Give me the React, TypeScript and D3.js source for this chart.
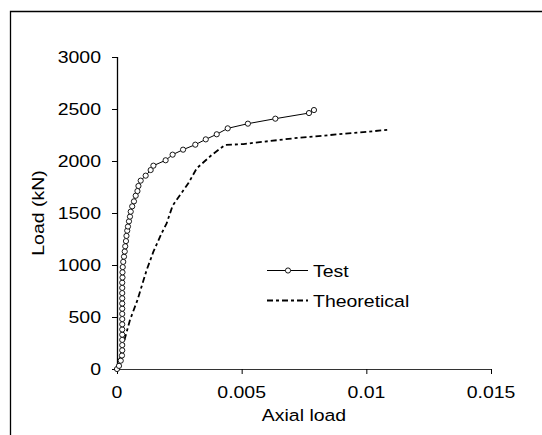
import React from "react";
import * as d3 from "d3";

const testStrain = [0, 0.00008, 0.00015, 0.0002, 0.00021, 0.00021, 0.00021, 0.00021, 0.00021, 0.00021, 0.00021, 0.00021, 0.00021, 0.00021, 0.00021, 0.00021, 0.00021, 0.00021, 0.00022, 0.00022, 0.00023, 0.00025, 0.00028, 0.00031, 0.00033, 0.00036, 0.00038, 0.00041, 0.00044, 0.00048, 0.00052, 0.00055, 0.00061, 0.00068, 0.00075, 0.00082, 0.00086, 0.00095, 0.00115, 0.00135, 0.00146, 0.00195, 0.00223, 0.00265, 0.00314, 0.00356, 0.004, 0.00444, 0.00525, 0.00635, 0.0077, 0.0079];
const testLoad = [0, 30, 80, 130, 180, 230, 280, 330, 380, 430, 480, 530, 580, 630, 680, 730, 780, 830, 880, 930, 980, 1030, 1080, 1130, 1180, 1230, 1280, 1330, 1370, 1420, 1465, 1513, 1564, 1612, 1666, 1711, 1760, 1811, 1859, 1913, 1955, 2007, 2061, 2109, 2157, 2208, 2257, 2314, 2359, 2407, 2461, 2490];

const theoStrain = [0, 0.00032, 0.00052, 0.00082, 0.00119, 0.00146, 0.00179, 0.00199, 0.00223, 0.00253, 0.00286, 0.0032, 0.0038, 0.00433, 0.00507, 0.00707, 0.0109];
const theoLoad = [0, 298, 471, 663, 952, 1128, 1305, 1400, 1570, 1673, 1785, 1930, 2058, 2154, 2163, 2218, 2300];

const xTicks = [0, 0.005, 0.01, 0.015];
const xTickLabels = ["0", "0.005", "0.01", "0.015"];
const yTicks = [0, 500, 1000, 1500, 2000, 2500, 3000];

const FS = 16.5;
const SX = 1.18;

function T({ x, y, anchor = "start", rotate = 0, children }: { x: number; y: number; anchor?: string; rotate?: number; children: React.ReactNode }) {
  return (
    <text
      transform={`translate(${x},${y}) rotate(${rotate}) scale(${SX},1)`}
      fontSize={FS}
      textAnchor={anchor}
      fill="#000"
    >
      {children}
    </text>
  );
}

export default function App() {
  const W = 542, H = 435;
  const x = d3.scaleLinear().domain([0, 0.015]).range([117, 491]);
  const y = d3.scaleLinear().domain([0, 3000]).range([369, 57]);
  const test = testStrain.map((s, i) => [s, testLoad[i]] as [number, number]);
  const theo = theoStrain.map((s, i) => [s, theoLoad[i]] as [number, number]);
  const line = d3.line<[number, number]>().x(d => x(d[0])).y(d => y(d[1]));
  const font = "'Liberation Sans', Arial, sans-serif";
  const dash = "6,3,3,3";
  return (
    <svg width={W} height={H} style={{ position: "absolute", left: 0, top: 0, background: "#fff" }} fontFamily={font}>
      <rect x={0} y={0} width={W} height={H} fill="#fff" />
      <path d={`M10.5,${H} L10.5,11.5 L${W},11.5`} fill="none" stroke="#000" strokeWidth={1.3} />
      {/* axes */}
      <line x1={x(0)} x2={x(0.015)} y1={y(0) + 0.5} y2={y(0) + 0.5} stroke="#333" strokeWidth={1} />
      <line x1={x(0) + 0.5} x2={x(0) + 0.5} y1={y(0)} y2={y(3000)} stroke="#000" strokeWidth={1.3} />
      {yTicks.map(t => (
        <g key={"y" + t}>
          <line x1={x(0) - 5} x2={x(0)} y1={y(t) + 0.5} y2={y(t) + 0.5} stroke="#000" />
          <T x={101} y={y(t) + 6} anchor="end">{t}</T>
        </g>
      ))}
      {xTicks.map((t, i) => (
        <g key={"x" + t}>
          <line x1={x(t) + 0.5} x2={x(t) + 0.5} y1={y(0)} y2={y(0) + 5} stroke="#000" />
          <T x={x(t)} y={y(0) + 29} anchor="middle">{xTickLabels[i]}</T>
        </g>
      ))}
      <T x={304} y={421} anchor="middle">Axial load</T>
      <T x={44} y={213} anchor="middle" rotate={-90}>Load (kN)</T>
      {/* series */}
      <path d={line(theo) || ""} fill="none" stroke="#000" strokeWidth={1.8} strokeDasharray={dash} />
      <path d={line(test) || ""} fill="none" stroke="#000" strokeWidth={1} />
      {test.map((d, i) => (
        <circle key={i} cx={x(d[0])} cy={y(d[1])} r={2.6} fill="#fff" stroke="#000" strokeWidth={0.9} />
      ))}
      {/* legend */}
      <line x1={267} x2={308} y1={270.5} y2={270.5} stroke="#000" />
      <circle cx={288} cy={270.5} r={2.6} fill="#fff" stroke="#000" strokeWidth={0.9} />
      <T x={313} y={277}>Test</T>
      <line x1={267} x2={308} y1={300.5} y2={300.5} stroke="#000" strokeWidth={1.8} strokeDasharray={dash} />
      <T x={313} y={307}>Theoretical</T>
    </svg>
  );
}
